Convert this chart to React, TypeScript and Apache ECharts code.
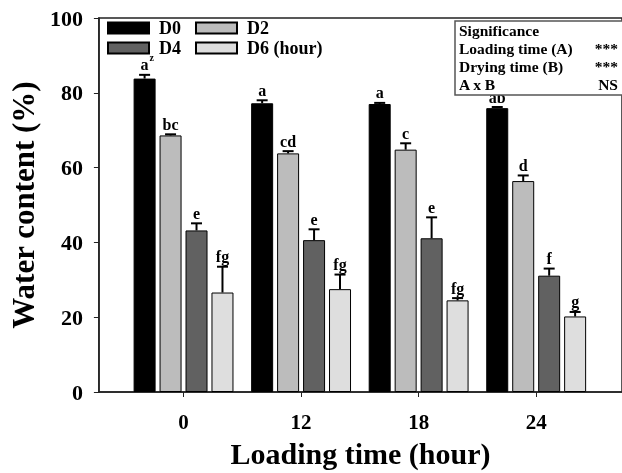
import React, { useEffect, useRef } from "react";
import * as echarts from "echarts";

const categories = ["0", "12", "18", "24"];
const seriesNames = ["D0", "D2", "D4", "D6 (hour)"];
const seriesColors = ["#000000", "#bcbcbc", "#616161", "#dedede"];

const d0 = [83.8, 77.2, 77.0, 75.9];
const d2 = [68.6, 63.8, 64.8, 56.4];
const d4 = [43.2, 40.6, 41.1, 31.1];
const d6 = [26.6, 27.5, 24.5, 20.2];

const d0Err = [1.0, 0.8, 0.3, 0.3];
const d2Err = [0.3, 0.6, 1.7, 1.5];
const d4Err = [1.9, 2.9, 5.6, 1.9];
const d6Err = [6.9, 3.9, 0.6, 1.2];

const d0Letters = ["a|z", "a", "a", "ab"];
const d2Letters = ["bc", "cd", "c", "d"];
const d4Letters = ["e", "e", "e", "f"];
const d6Letters = ["fg", "fg", "fg", "g"];

const sigLeft = ["Significance", "Loading time (A)", "Drying time (B)", "A x B"];
const sigRight = ["", "***", "***", "NS"];

const FONT = "'Liberation Serif', 'Times New Roman', serif";
const BAR_W = 22;
const BAR_GAP = 0.18;

export default function App() {
  const ref = useRef<HTMLDivElement>(null);
  useEffect(() => {
    if (!ref.current) return;
    const chart = echarts.init(ref.current, undefined, { renderer: "svg" });
    const values = [d0, d2, d4, d6];
    const errs = [d0Err, d2Err, d4Err, d6Err];
    const letters = [d0Letters, d2Letters, d4Letters, d6Letters];
    const step = BAR_W * (1 + BAR_GAP);
    const totalW = BAR_W * 4 + BAR_W * BAR_GAP * 3;

    const barSeries = values.map((vals, si) => ({
      type: "bar",
      name: seriesNames[si],
      data: vals.map((v, i) => [i, v]),
      barWidth: BAR_W,
      barGap: BAR_GAP * 100 + "%",
      itemStyle: { color: seriesColors[si], borderColor: "#000", borderWidth: 1 },
    }));

    const errSeries = values.map((vals, si) => ({
      type: "custom",
      name: seriesNames[si] + "-err",
      clip: false,
      silent: true,
      z: 5,
      data: vals.map((v, i) => [i, v, errs[si][i]]),
      renderItem: (params: any, api: any) => {
        const x = api.value(0);
        const v = api.value(1);
        const e = api.value(2);
        const base = api.coord([x, v]);
        const top = api.coord([x, v + e]);
        const cx = base[0] - totalW / 2 + BAR_W / 2 + si * step;
        const lbl = letters[si][params.dataIndex];
        const parts = lbl.split("|");
        const children: any[] = [
          {
            type: "line",
            shape: { x1: cx, y1: base[1], x2: cx, y2: top[1] },
            style: { stroke: "#000", lineWidth: 2 },
          },
          {
            type: "line",
            shape: { x1: cx - 5.5, y1: top[1], x2: cx + 5.5, y2: top[1] },
            style: { stroke: "#000", lineWidth: 2 },
          },
          {
            type: "text",
            x: cx,
            y: top[1] - 2,
            style: {
              text: parts[0],
              fontFamily: FONT,
              fontWeight: "bold",
              fontSize: 16,
              fill: "#000",
              align: "center",
              verticalAlign: "bottom",
            },
          },
        ];
        if (parts[1]) {
          children.push({
            type: "text",
            x: cx + 5,
            y: top[1] - 12,
            style: {
              text: parts[1],
              fontFamily: FONT,
              fontWeight: "bold",
              fontSize: 10,
              fill: "#000",
              align: "left",
              verticalAlign: "bottom",
            },
          });
        }
        return { type: "group", children };
      },
    }));

    const legendText = { fontFamily: FONT, fontWeight: "bold", fontSize: 18, color: "#000", padding: [0, 0, 0, 5] };
    const sigStyle = { fontFamily: FONT, fontWeight: "bold", fontSize: 15.5, lineHeight: 17.8, fill: "#000" };

    chart.setOption({
      animation: false,
      textStyle: { fontFamily: FONT },
      grid: {
        left: 97,
        right: -15,
        top: 18,
        bottom: 73,
        show: true,
        borderColor: "#222",
        borderWidth: 1.5,
        containLabel: false,
      },
      legend: [
        {
          data: ["D0", "D2"],
          left: 107,
          top: 19,
          padding: 0,
          itemWidth: 41,
          itemHeight: 11,
          itemGap: 14,
          icon: "rect",
          textStyle: legendText,
        },
        {
          data: ["D4", "D6 (hour)"],
          left: 107,
          top: 39,
          padding: 0,
          itemWidth: 41,
          itemHeight: 11,
          itemGap: 14,
          icon: "rect",
          textStyle: legendText,
        },
      ],
      xAxis: {
        type: "value",
        min: -0.72,
        max: 3.73,
        name: "Loading time (hour)",
        nameLocation: "middle",
        nameGap: 46,
        nameTextStyle: { fontFamily: FONT, fontWeight: "bold", fontSize: 30, color: "#000" },
        axisLine: { show: true, onZero: false, lineStyle: { color: "#222", width: 1.5 } },
        axisTick: { show: true, inside: false, length: 5, customValues: [0, 1, 2, 3], lineStyle: { color: "#222" } },
        axisLabel: {
          customValues: [0, 1, 2, 3],
          formatter: (v: number) => categories[Math.round(v)] ?? "",
          fontFamily: FONT,
          fontWeight: "bold",
          fontSize: 21,
          color: "#000",
          margin: 19,
        },
        splitLine: { show: false },
      },
      yAxis: {
        type: "value",
        min: 0,
        max: 100,
        interval: 20,
        name: "Water content (%)",
        nameLocation: "middle",
        nameRotate: 90,
        nameGap: 55,
        nameTextStyle: { fontFamily: FONT, fontWeight: "bold", fontSize: 31, color: "#000" },
        axisLine: { show: true, onZero: false, lineStyle: { color: "#222", width: 1.5 } },
        axisTick: { show: true, inside: false, length: 5, lineStyle: { color: "#222" } },
        axisLabel: { fontFamily: FONT, fontWeight: "bold", fontSize: 22, color: "#000", margin: 16 },
        splitLine: { show: false },
      },
      graphic: [
        {
          type: "rect",
          shape: { x: 455, y: 21, width: 200, height: 74 },
          style: { fill: "#fff", stroke: "#555", lineWidth: 1.5 },
          z: 10,
        },
        {
          type: "text",
          x: 459,
          y: 22,
          z: 11,
          style: { ...sigStyle, text: sigLeft.join("\n"), align: "left", verticalAlign: "top" },
        },
        {
          type: "text",
          x: 618,
          y: 22,
          z: 11,
          style: { ...sigStyle, text: sigRight.join("\n"), align: "right", verticalAlign: "top" },
        },
      ],
      series: [...barSeries, ...errSeries],
    });
    return () => chart.dispose();
  }, []);
  return <div ref={ref} style={{ position: "fixed", left: 0, top: 0, width: 622, height: 473 }} />;
}
